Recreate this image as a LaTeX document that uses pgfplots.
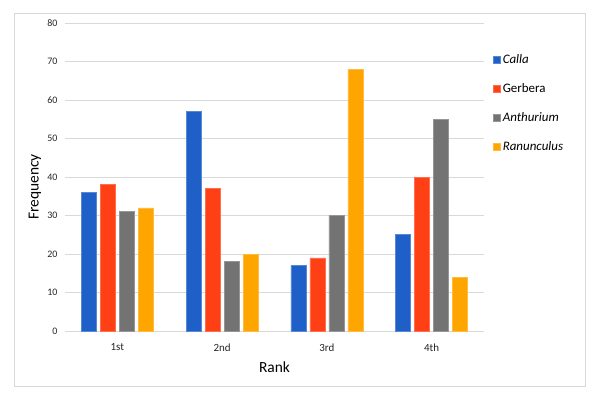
\documentclass[border=0pt]{standalone}
\usepackage{pgfplots}
\pgfplotsset{compat=1.18}
\usepackage{fontspec}
\setmainfont{Carlito}
\definecolor{calla}{RGB}{31,96,200}
\definecolor{gerbera}{RGB}{255,63,20}
\definecolor{anth}{RGB}{115,115,115}
\definecolor{ranun}{RGB}{255,165,0}
\definecolor{gridc}{RGB}{217,217,217}
\begin{document}
\begin{tikzpicture}[x=1bp,y=1bp]
\path[use as bounding box] (0,0) rectangle (600,394);
\draw[gridc, line width=1bp] (14,8) rectangle (585,380);
\begin{axis}[
  at={(65bp,63bp)}, anchor=south west,
  scale only axis, width=419bp, height=308bp,
  ybar=4bp, bar width=15bp,
  xmin=-0.5, xmax=3.5, ymin=0, ymax=80,
  xtick={0,1,2,3}, xticklabels={1st,2nd,3rd,4th},
  ytick={0,10,...,80},
  ymajorgrids, grid style={gridc, line width=0.8bp},
  axis line style={draw=none},
  major tick length=0pt,
  /pgf/number format/assume math mode=true,
  yticklabel style={font=\fontsize{10}{12}\selectfont, xshift=-4bp, text=black!85},
  xticklabel style={font=\fontsize{11}{13}\selectfont, yshift=-9bp, text=black!85},
  legend style={at={(1,1)}, anchor=north west, xshift=6bp, yshift=-27bp, draw=none, fill=none,
    font=\fontsize{13}{15}\selectfont, row sep=14.5bp},
  legend cell align=left,
  legend image code/.code={\fill[#1] (0bp,-3.5bp) rectangle (7bp,3.5bp);},
]
\addplot[fill=calla, draw=calla!75!white, line width=0.6bp] coordinates {(0,36) (1,57) (2,17) (3,25)};
\addplot[fill=gerbera, draw=gerbera!75!white, line width=0.6bp] coordinates {(0,38) (1,37) (2,19) (3,40)};
\addplot[fill=anth, draw=anth!75!white, line width=0.6bp] coordinates {(0,31) (1,18) (2,30) (3,55)};
\addplot[fill=ranun, draw=ranun!75!white, line width=0.6bp] coordinates {(0,32) (1,20) (2,68) (3,14)};
\legend{\textit{Calla}, Gerbera, \textit{Anthurium}, \textit{Ranunculus}}
\end{axis}
\node[rotate=90, font=\fontsize{15.5}{17}\selectfont] at (35,207) {Frequency};
\node[font=\fontsize{15.5}{17}\selectfont] at (274.5,27) {Rank};
\end{tikzpicture}
\end{document}
